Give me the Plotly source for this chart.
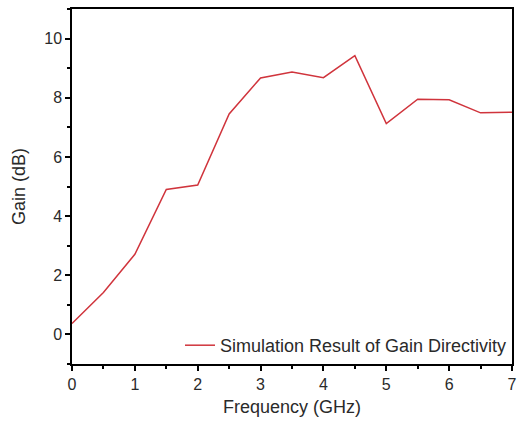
import plotly.graph_objects as go

freq = [0, 0.5, 1, 1.5, 2, 2.5, 3, 3.5, 4, 4.5, 5, 5.5, 6, 6.5, 7]
gain = [0.37, 1.42, 2.71, 4.90, 5.05, 7.45, 8.67, 8.87, 8.68, 9.42, 7.13, 7.95, 7.93, 7.49, 7.51]
series_name = "Simulation Result of Gain Directivity"

fig = go.Figure()
fig.add_trace(go.Scatter(x=freq, y=gain, mode="lines", name=series_name,
                         line=dict(color="#d0343c", width=1.5), showlegend=True))

axis_common = dict(showline=True, linecolor="black", linewidth=1.5, mirror=True,
                   ticks="outside", ticklen=5, tickwidth=1.5, tickcolor="black",
                   showgrid=False, zeroline=False, ticklabeloverflow="allow",
                   automargin=False,
                   tickfont=dict(family="Liberation Sans, Arial", size=16, color="#2a2a2a"))

fig.update_layout(
    width=518, height=423,
    margin=dict(l=72, r=6, t=9, b=59),
    paper_bgcolor="white", plot_bgcolor="white",
    font=dict(family="Liberation Sans, Arial", color="#2a2a2a"),
    showlegend=True,
    legend=dict(x=1, y=0, xanchor="right", yanchor="bottom",
                font=dict(size=18, color="#2a2a2a"), bgcolor="rgba(0,0,0,0)",
                borderwidth=0),
    xaxis=dict(range=[0, 7], dtick=1, tick0=0,
               minor=dict(ticks="outside", ticklen=3, tickwidth=1.5, tickcolor="black", dtick=0.5),
               title=dict(text="Frequency (GHz)", font=dict(size=18), standoff=8),
               **axis_common),
    yaxis=dict(range=[-1, 11], dtick=2, tick0=0,
               minor=dict(ticks="outside", ticklen=3, tickwidth=1.5, tickcolor="black", dtick=1),
               title=dict(text="Gain (dB)", font=dict(size=18), standoff=14),
               **axis_common),
)

fig.write_html("out.html")
